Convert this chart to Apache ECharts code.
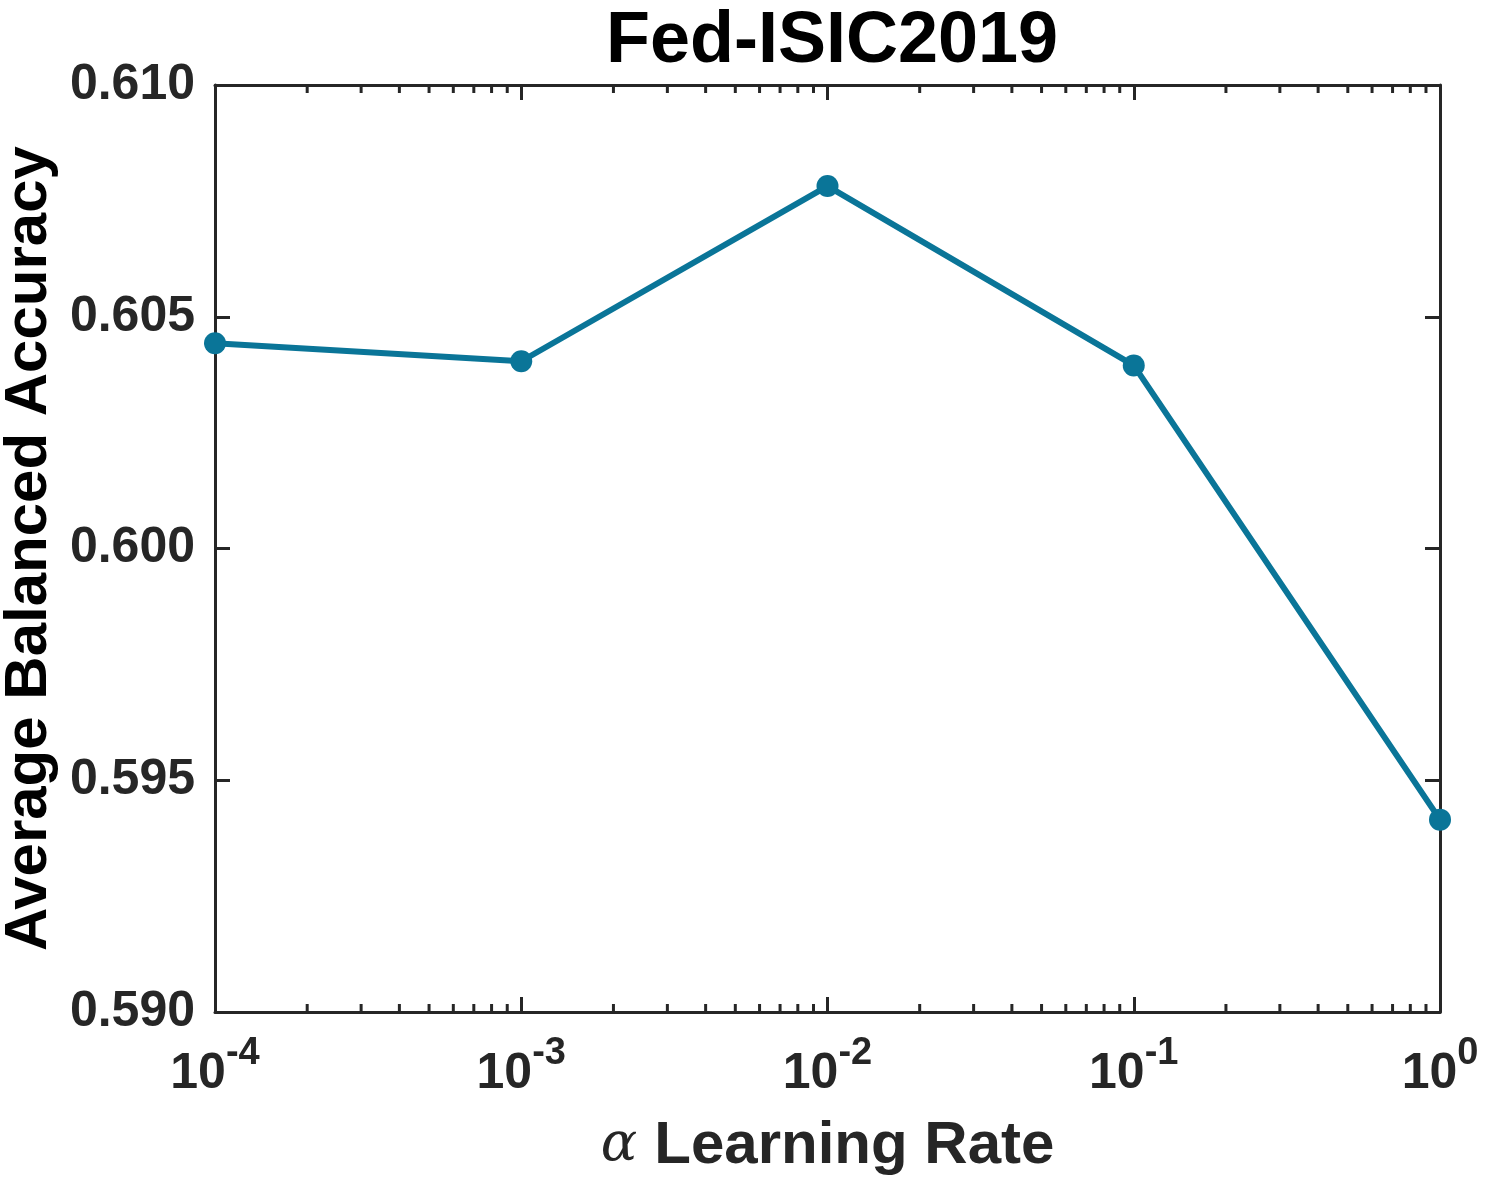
<!DOCTYPE html>
<html>
<head>
<meta charset="utf-8">
<title>Fed-ISIC2019</title>
<script src="https://cdn.jsdelivr.net/npm/echarts@6/dist/echarts.min.js"></script>
<style>
  html, body { margin: 0; padding: 0; background: #fff; }
  #chart { width: 1486px; height: 1180px; }
</style>
</head>
<body>
<div id="chart"></div>
<script>
// values
const learningRates = [1e-4, 1e-3, 1e-2, 1e-1, 1];
const balancedAcc = [0.60443, 0.60404, 0.60782, 0.60395, 0.59415];
const yTicks = [0.590, 0.595, 0.600, 0.605, 0.610];

// minor log ticks 2..9 in each decade
const minorTicks = [];
for (let e = -4; e < 0; e++) {
    for (let m = 2; m <= 9; m++) minorTicks.push([m * Math.pow(10, e), yTicks[0]]);
}

const axisColor = '#262626';
const lineColor = '#0A7598';
const sans = '"Liberation Sans", Arial, Helvetica, sans-serif';

document.addEventListener("DOMContentLoaded", function() {
    const chart = echarts.init(document.getElementById('chart'));

    const xLabel = {
        color: axisColor,
        margin: 37,
        formatter: function(v) {
            const e = Math.round(Math.log10(v));
            return '{b|10}{s|' + e + '}';
        },
        rich: {
            b: { fontFamily: sans, fontWeight: 'bold', fontSize: 50, color: axisColor, lineHeight: 50, verticalAlign: 'bottom' },
            s: { fontFamily: sans, fontWeight: 'bold', fontSize: 38, color: axisColor, lineHeight: 38, verticalAlign: 'bottom', padding: [0, 0, 26, 0] }
        }
    };

    const option = {
        animation: false,
        backgroundColor: '#fff',
        title: {
            text: 'Fed-ISIC2019',
            left: 827,
            textAlign: 'center',
            top: 1,
            textStyle: { fontFamily: sans, fontWeight: 'bold', fontSize: 72, color: '#000' }
        },
        grid: {
            left: 215,
            right: 46,
            top: 85,
            bottom: 168,
            outerBoundsMode: 'none',
            containLabel: false
        },
        xAxis: [{
            type: 'log',
            logBase: 10,
            min: 1e-4,
            max: 1,
            position: 'bottom',
            name: '{a|α }{t|Learning Rate}',
            nameLocation: 'middle',
            nameGap: 104,
            nameTextStyle: {
                rich: {
                    a: { fontFamily: '"DejaVu Serif", "Liberation Serif", serif', fontStyle: 'italic', fontSize: 54, color: axisColor },
                    t: { fontFamily: sans, fontWeight: 'bold', fontSize: 60, color: axisColor }
                }
            },
            axisLine: { lineStyle: { color: axisColor, width: 3 } },
            axisTick: { inside: true, length: 15, lineStyle: { color: axisColor, width: 3 } },
            axisLabel: xLabel,
            splitLine: { show: false }
        }, {
            type: 'log',
            logBase: 10,
            min: 1e-4,
            max: 1,
            position: 'top',
            axisLine: { lineStyle: { color: axisColor, width: 3 } },
            axisTick: { inside: true, length: 15, lineStyle: { color: axisColor, width: 3 } },
            axisLabel: { show: false },
            splitLine: { show: false }
        }],
        yAxis: [{
            type: 'value',
            min: yTicks[0],
            max: yTicks[yTicks.length - 1],
            interval: 0.005,
            position: 'left',
            name: 'Average Balanced Accuracy',
            nameLocation: 'middle',
            nameGap: 150,
            nameTextStyle: { fontFamily: sans, fontWeight: 'bold', fontSize: 60, color: '#000' },
            axisLine: { show: true, lineStyle: { color: axisColor, width: 3 } },
            axisTick: { show: true, inside: true, length: 15, lineStyle: { color: axisColor, width: 3 } },
            axisLabel: {
                fontFamily: sans, fontWeight: 'bold', fontSize: 50, color: axisColor, margin: 20,
                formatter: v => v.toFixed(3)
            },
            splitLine: { show: false }
        }, {
            type: 'value',
            min: yTicks[0],
            max: yTicks[yTicks.length - 1],
            interval: 0.005,
            position: 'right',
            axisLine: { show: true, lineStyle: { color: axisColor, width: 3 } },
            axisTick: { show: true, inside: true, length: 15, lineStyle: { color: axisColor, width: 3 } },
            axisLabel: { show: false },
            splitLine: { show: false }
        }],
        series: [{
            type: 'custom',
            silent: true,
            clip: false,
            data: minorTicks,
            renderItem: function(params, api) {
                const x = api.coord([api.value(0), api.value(1)])[0];
                const cs = params.coordSys;
                const st = { stroke: axisColor, lineWidth: 3 };
                return {
                    type: 'group',
                    children: [
                        { type: 'line', shape: { x1: x, y1: cs.y + cs.height, x2: x, y2: cs.y + cs.height - 8 }, style: st },
                        { type: 'line', shape: { x1: x, y1: cs.y, x2: x, y2: cs.y + 8 }, style: st }
                    ]
                };
            }
        }, {
            type: 'line',
            data: learningRates.map((r, i) => [r, balancedAcc[i]]),
            symbol: 'circle',
            symbolSize: 22,
            clip: false,
            lineStyle: { color: lineColor, width: 6 },
            itemStyle: { color: lineColor }
        }]
    };

    chart.setOption(option);
});
</script>
</body>
</html>
